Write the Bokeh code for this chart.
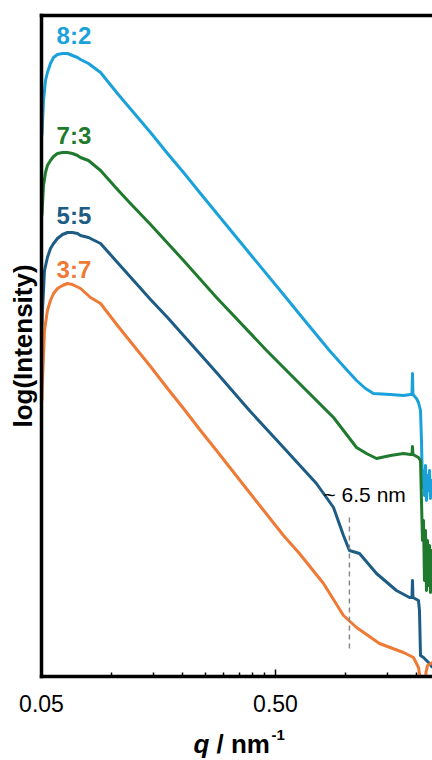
from bokeh.plotting import figure
from bokeh.layouts import column
from bokeh.models import Range1d, FixedTicker, LogAxis, Label, CustomJSTickFormatter
from bokeh.core.properties import value
from bokeh.embed import file_html
from bokeh.resources import INLINE

# ---------------- data (q in nm^-1, log intensity in arbitrary units) ----------------
q_82 = [0.0502, 0.0510, 0.0520, 0.0530, 0.0546, 0.0563, 0.0585, 0.0615, 0.0646, 0.0678,
        0.0713, 0.0734, 0.0794, 0.0894, 0.1056, 0.1237, 0.1462, 0.1728, 0.2023, 0.2390,
        0.391, 0.541, 0.640, 0.850, 0.996, 1.110, 1.212, 1.311, 1.550, 1.762, 1.888,
        1.915, 1.925, 1.934, 2.002, 2.042, 2.083, 2.103, 2.124, 2.145, 2.166, 2.188,
        2.209, 2.231, 2.253, 2.276, 2.298, 2.321, 2.344]
I_82 = [5.41, 5.76, 5.96, 6.04, 6.13, 6.19, 6.22, 6.23, 6.23, 6.21,
        6.19, 6.17, 6.13, 6.04, 5.83, 5.64, 5.44, 5.23, 5.04, 4.83,
        4.22, 3.82, 3.61, 3.26, 3.08, 2.96, 2.88, 2.83, 2.82, 2.81, 2.82,
        2.82, 3.03, 2.82, 2.78, 2.74, 2.66, 2.36, 1.89, 2.06, 1.81, 2.11,
        1.76, 2.01, 1.86, 2.06, 1.78, 1.96, 1.86]

q_73 = [0.0502, 0.0510, 0.0520, 0.0530, 0.0546, 0.0563, 0.0585, 0.0615, 0.0646, 0.0678,
        0.0713, 0.0734, 0.0794, 0.0894, 0.1056, 0.1200, 0.1462, 0.2023, 0.2798, 0.458,
        0.633, 0.885, 1.110, 1.224, 1.351, 1.550, 1.762, 1.888, 1.915, 1.925, 1.934,
        2.042, 2.083, 2.103, 2.124, 2.145, 2.166, 2.188, 2.209, 2.231, 2.253, 2.276,
        2.298, 2.321, 2.344]
I_73 = [4.61, 4.91, 5.04, 5.11, 5.16, 5.20, 5.23, 5.24, 5.24, 5.23,
        5.21, 5.19, 5.16, 5.06, 4.87, 4.73, 4.52, 4.16, 3.79, 3.26,
        2.93, 2.59, 2.29, 2.23, 2.18, 2.21, 2.23, 2.22, 2.22, 2.30, 2.22,
        2.19, 2.16, 1.76, 1.36, 1.56, 0.96, 1.46, 0.86, 1.36, 0.91, 1.31,
        0.84, 1.26, 0.96]

q_55 = [0.0502, 0.0505, 0.0515, 0.0530, 0.0546, 0.0563, 0.0585, 0.0615, 0.0646, 0.0678,
        0.0713, 0.0734, 0.0794, 0.0894, 0.1056, 0.1237, 0.1462, 0.1728, 0.2023, 0.2390,
        0.2798, 0.387, 0.541, 0.748, 0.885, 0.976, 1.035, 1.143, 1.351, 1.644, 1.869,
        1.915, 1.925, 1.934, 2.042, 2.062, 2.083, 2.145, 2.253, 2.344]
I_55 = [3.46, 3.66, 4.06, 4.19, 4.28, 4.33, 4.38, 4.42, 4.44, 4.44,
        4.43, 4.41, 4.39, 4.33, 4.14, 3.96, 3.77, 3.59, 3.41, 3.22,
        3.04, 2.66, 2.29, 1.93, 1.69, 1.41, 1.26, 1.23, 1.03, 0.86, 0.79,
        0.79, 0.96, 0.79, 0.76, 0.66, 0.21, 0.19, 0.14, 0.09]

q_37 = [0.0502, 0.0505, 0.0515, 0.0530, 0.0546, 0.0563, 0.0585, 0.0615, 0.0646, 0.0678,
        0.0734, 0.0810, 0.0894, 0.1056, 0.1237, 0.1462, 0.1728, 0.2023, 0.2390, 0.2798,
        0.387, 0.541, 0.633, 0.802, 0.976, 1.110, 1.391, 1.762, 1.944, 2.042, 2.083,
        2.113, 2.166, 2.198, 2.231, 2.344]
I_37 = [2.76, 2.96, 3.46, 3.66, 3.76, 3.83, 3.88, 3.91, 3.93, 3.92,
        3.88, 3.79, 3.73, 3.51, 3.31, 3.10, 2.88, 2.68, 2.46, 2.26,
        1.84, 1.41, 1.23, 0.93, 0.61, 0.49, 0.33, 0.24, 0.19, 0.09, -0.04,
        -0.24, -0.24, 0.04, 0.11, 0.14]

series_names = ["8:2", "7:3", "5:5", "3:7"]
series_q = [q_82, q_73, q_55, q_37]
series_I = [I_82, I_73, I_55, I_37]
series_colors = ["#1BA1DA", "#1F7A2E", "#1D5C84", "#EF7A36"]
label_q = [0.058, 0.058, 0.058, 0.058]
label_I = [6.41, 5.41, 4.61, 4.07]

major_ticks = [0.05, 0.5, 5.0]
minor_ticks = [0.10, 0.15, 0.20, 0.25, 0.30, 0.35, 0.40, 0.45, 1.0, 1.5, 2.0, 2.5, 3.0]

peak_q = 1.035
peak_I_range = [0.28, 1.61]
peak_text = "~ 6.5 nm"
peak_text_pos = (0.802, 1.82)

y_title = "log(Intensity)"
x_title_parts = ["q", "/ nm", "-1"]

FONT = "Liberation Sans"

p = figure(width=432, height=720, x_axis_type="log",
           x_range=Range1d(0.05, 2.344), y_range=Range1d(0, 6.61),
           output_backend="svg", toolbar_location=None,
           min_border_left=41, min_border_right=0, min_border_top=15, min_border_bottom=44)
p.outline_line_color = None
p.xgrid.visible = False
p.ygrid.visible = False
p.background_fill_color = "white"
p.border_fill_color = "white"

# bottom axis
xa = p.xaxis[0]
xa.ticker = FixedTicker(ticks=major_ticks, minor_ticks=minor_ticks)
xa.formatter = CustomJSTickFormatter(code="return tick.toFixed(2);")
xa.axis_line_width = 3.5
xa.axis_line_color = "black"
xa.axis_line_cap = "square"
xa.major_tick_in = 7
xa.major_tick_out = 0
xa.minor_tick_in = 4
xa.minor_tick_out = 0
xa.major_tick_line_width = 1.5
xa.minor_tick_line_width = 1.5
xa.major_label_text_font = FONT
xa.major_label_text_font_size = "23px"
xa.major_label_text_color = "black"
xa.major_label_standoff = 18

# left axis (no ticks), with title
ya = p.yaxis[0]
ya.ticker = FixedTicker(ticks=[])
ya.axis_line_width = 3.5
ya.axis_line_color = "black"
ya.axis_line_cap = "square"
ya.major_tick_line_color = None
ya.minor_tick_line_color = None
ya.major_label_text_font_size = "0px"
ya.major_label_standoff = 0
ya.major_tick_out = 0
ya.axis_label = y_title
ya.axis_label_text_font = FONT
ya.axis_label_text_font_style = "bold"
ya.axis_label_text_font_size = "26px"
ya.axis_label_text_color = "black"
ya.axis_label_standoff = 4

# top border as an axis
ta = LogAxis(ticker=FixedTicker(ticks=[]), axis_line_width=3.5, axis_line_color="black",
             axis_line_cap="square",
             major_tick_line_color=None, minor_tick_line_color=None,
             major_label_text_font_size="0px", major_label_standoff=0,
             major_tick_out=0)
p.add_layout(ta, "above")

for name, qs, Is, col, lq, lI in zip(series_names, series_q, series_I, series_colors, label_q, label_I):
    p.line(qs, Is, line_color=col, line_width=3, line_join="round")
    p.add_layout(Label(x=lq, y=lI, text=name, text_color=col, text_font=FONT,
                       text_font_style="bold", text_font_size="24px",
                       text_align="left", text_baseline="alphabetic"))

p.line([peak_q, peak_q], peak_I_range, line_color="#8a8a8a", line_width=1.5, line_dash="5 4")
p.add_layout(Label(x=peak_text_pos[0], y=peak_text_pos[1], text=peak_text, text_color="black",
                   text_font=FONT, text_font_size="21px", text_align="left",
                   text_baseline="alphabetic"))

# x-axis title in a strip below (mixed italic / superscript styling);
# its frame is aligned with the main frame (x = 41 .. 432 on the page)
p2 = figure(width=432, height=38, x_range=Range1d(41, 432), y_range=Range1d(0, 38),
            output_backend="svg", toolbar_location=None,
            x_axis_location=None, y_axis_location=None,
            min_border=0, min_border_left=0, min_border_right=0,
            min_border_top=0, min_border_bottom=0)
p2.outline_line_color = None
p2.xgrid.visible = False
p2.ygrid.visible = False
p2.text(x=[193], y=[15], text=[x_title_parts[0]], text_font=value(FONT),
        text_font_style="bold italic", text_font_size="26px",
        text_align="left", text_baseline="alphabetic", text_color="black")
p2.text(x=[216], y=[15], text=[x_title_parts[1]], text_font=value(FONT),
        text_font_style="bold", text_font_size="26px",
        text_align="left", text_baseline="alphabetic", text_color="black")
p2.text(x=[271], y=[24], text=[x_title_parts[2]], text_font=value(FONT),
        text_font_style="bold", text_font_size="15px",
        text_align="left", text_baseline="alphabetic", text_color="black")

layout = column(p, p2, spacing=0)
open("out.html", "w").write(file_html(layout, INLINE))
